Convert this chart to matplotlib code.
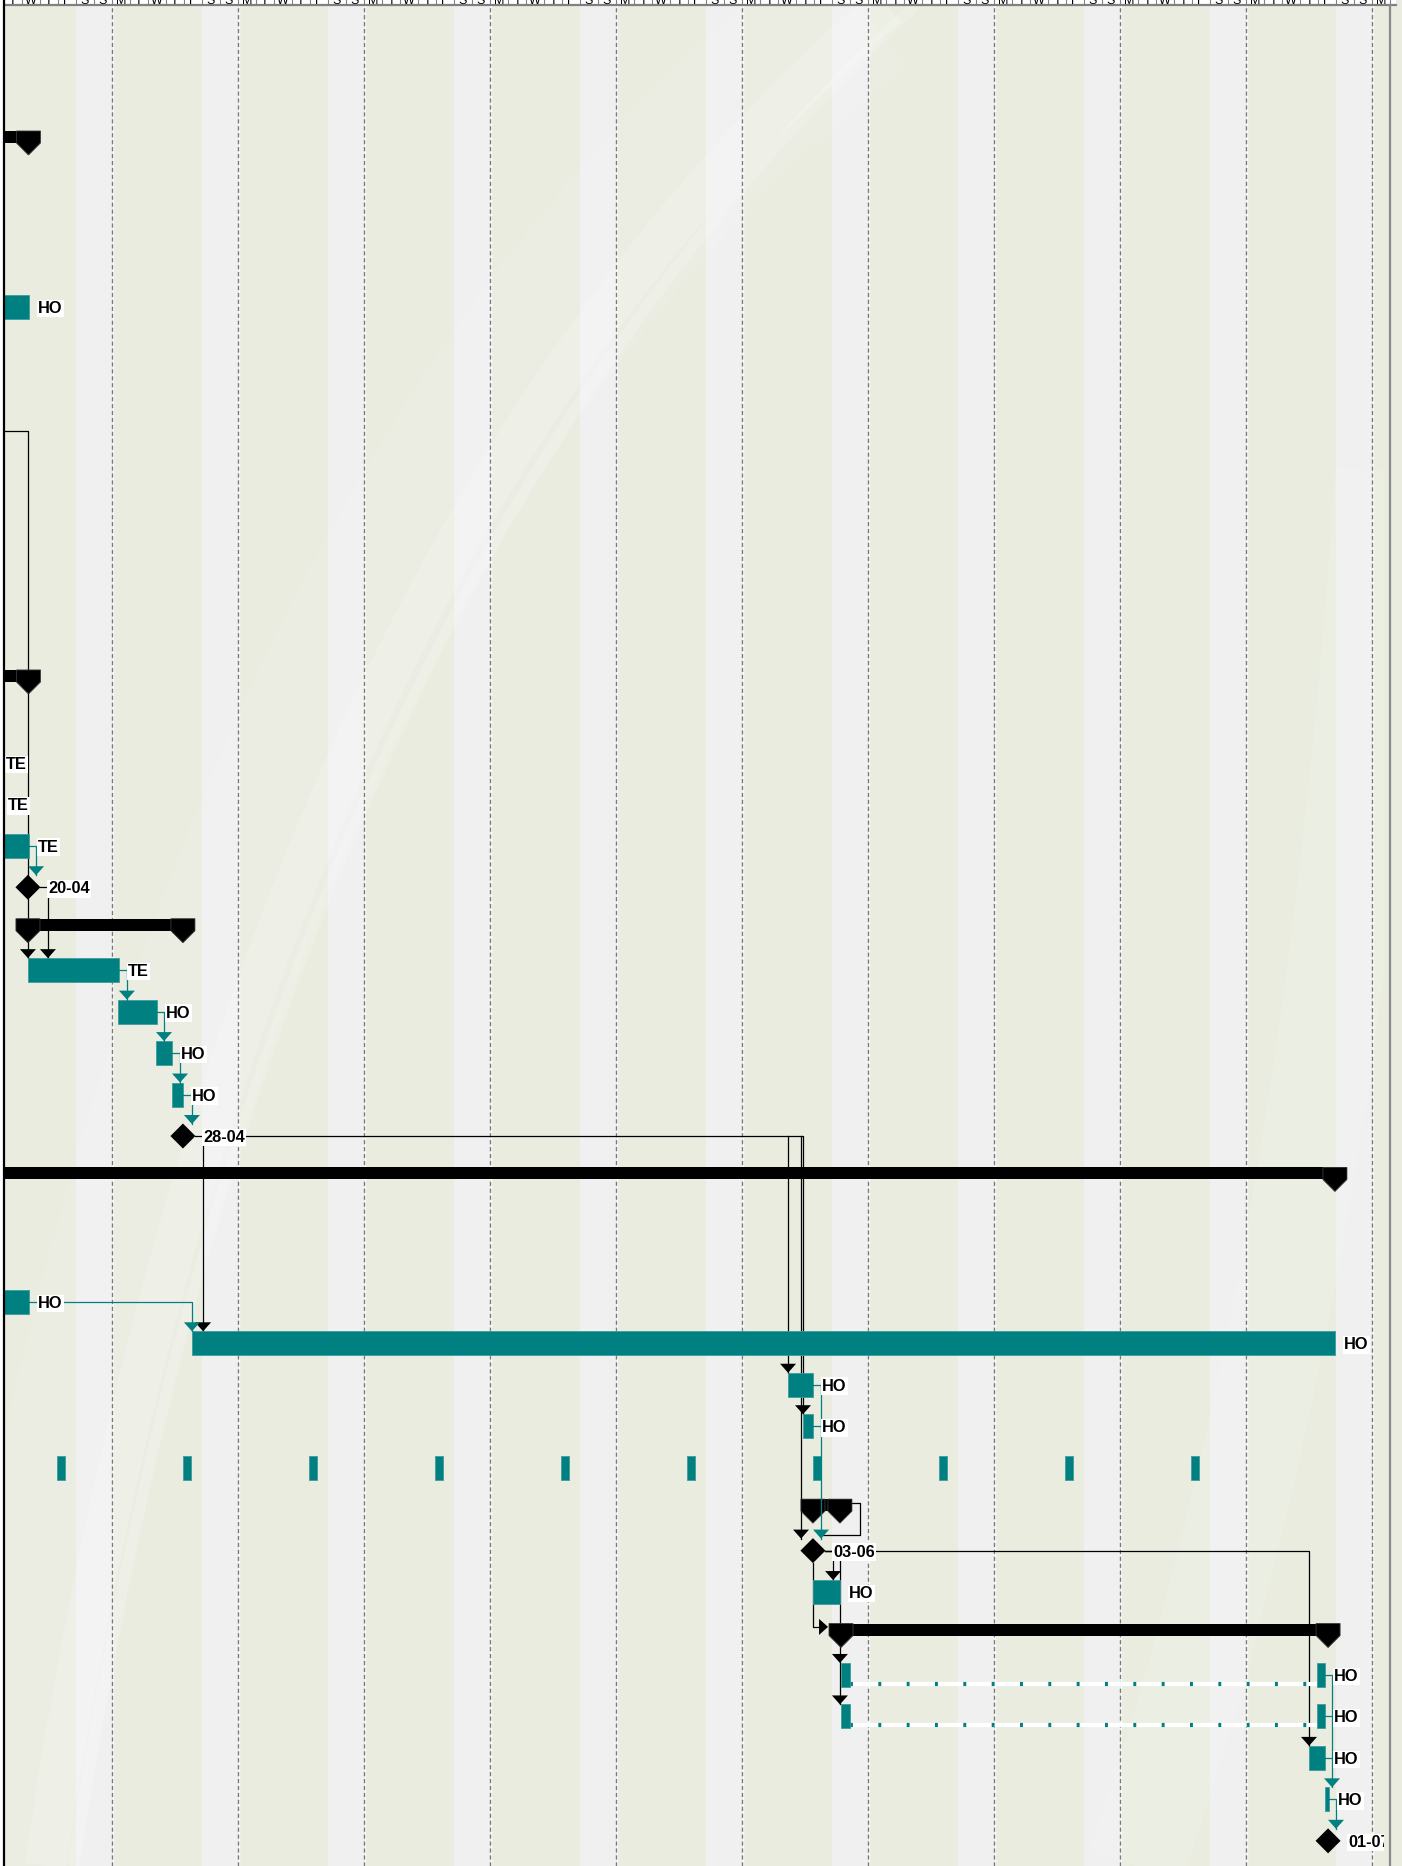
import numpy as np
import matplotlib.pyplot as plt
from matplotlib.patches import Polygon, Rectangle
from matplotlib.lines import Line2D

# ---- data (x in days from the Monday of the first week, y = row index) ----
TEAL = '#008080'

# summary rows: (row, start, end)
summaries = [(0, -1.0, 2.36), (13, -1.0, 2.36), (19, 2.33, 10.94),
             (25, -1.0, 74.94), (33, 45.94, 47.44), (36, 47.5, 74.56)]

# task bars: (row, start, end, label)
tasks = [(4, 0.0, 2.39, 'HO'), (15, -3.0, 0.6, 'TE'), (16, -3.0, 0.72, 'TE'),
         (17, 0.0, 2.39, 'TE'), (20, 2.33, 7.39, 'TE'), (21, 7.33, 9.5, 'HO'),
         (22, 9.44, 10.33, 'HO'), (23, 10.33, 10.94, 'HO'), (28, 0.0, 2.39, 'HO'),
         (29, 11.44, 74.94, 'HO'), (30, 44.56, 45.94, 'HO'), (31, 45.39, 45.94, 'HO'),
         (35, 45.97, 47.44, 'HO'), (39, 73.5, 74.39, 'HO'), (40, 74.39, 74.61, 'HO')]

# split tasks: (row, first part, second part, label)
split_tasks = [(37, (47.5, 48.0), (73.94, 74.39), 'HO'),
               (38, (47.5, 48.0), (73.94, 74.39), 'HO')]

# recurring task on row 32: weekly occurrences
recurring_row = 32
recurring_starts = [3.94, 10.94, 17.94, 24.94, 31.94, 38.94, 45.94, 52.94, 59.94, 66.94]
recurring_len = 0.44

# milestones: (row, date position, label)
milestones = [(18, 2.33, '20-04'), (24, 10.94, '28-04'),
              (34, 45.94, '03-06'), (41, 74.56, '01-07')]

# dependency links (waypoints) and arrow tips
black_links = [
    [(1.0, 7), (2.33, 7), (2.33, 19.71)],
    [(3.0, 18), (3.44, 18), (3.44, 19.71)],
    [(11.6, 24), (45.39, 24), (45.39, 30.71)],
    [(12.06, 24), (12.06, 28.71)],
    [(44.56, 24), (44.56, 29.71)],
    [(45.28, 24), (45.28, 33.71)],
    [(48.11, 32.85), (48.56, 32.85), (48.56, 33.62), (46.39, 33.62)],
    [(46.61, 34), (47.06, 34), (47.06, 34.71)],
    [(46.61, 34), (47.44, 34), (47.44, 37.71)],
    [(45.94, 34.29), (45.94, 35.84), (46.3, 35.84)],
    [(46.61, 34), (73.5, 34), (73.5, 38.71)],
]
black_arrows = [(2.33, 19.71), (3.44, 19.71), (12.06, 28.71), (44.56, 29.71),
                (45.39, 30.71), (45.28, 33.71), (47.06, 34.71), (47.44, 36.71),
                (47.44, 37.71), (73.5, 38.71)]
teal_links = [
    [(2.39, 17), (2.78, 17), (2.78, 17.71)],
    [(7.39, 20), (7.83, 20), (7.83, 20.71)],
    [(9.5, 21), (9.89, 21), (9.89, 21.71)],
    [(10.33, 22), (10.78, 22), (10.78, 22.71)],
    [(10.94, 23), (11.44, 23), (11.44, 23.71)],
    [(2.39, 28), (11.44, 28), (11.44, 28.71)],
    [(45.94, 30), (46.39, 30), (46.39, 33.71)],
    [(45.94, 31), (46.39, 31)],
    [(74.39, 37), (74.78, 37), (74.78, 39.71)],
    [(74.39, 38), (74.78, 38)],
    [(74.39, 39), (74.78, 39)],
    [(74.61, 40), (75.0, 40), (75.0, 40.71)],
]
teal_arrows = [(2.78, 17.71), (7.83, 20.71), (9.89, 21.71), (10.78, 22.71),
               (11.44, 23.71), (11.44, 28.71), (46.39, 33.71), (74.78, 39.71),
               (75.0, 40.71)]
right_arrows = [(46.78, 35.84)]

day_letters = ['M', 'T', 'W', 'T', 'F', 'S', 'S']

# ---- figure ----
W, H = 1402, 1866
fig = plt.figure(figsize=(W / 100, H / 100), dpi=100)
fig.patch.set_facecolor('#e9ecdf')

ax = fig.add_axes([4 / W, 0, 1380 / W, 1860 / H])
ax.set_xlim(1.0, 1.0 + 1380 / 18.0)
ax.set_ylim(41.607, -3.256)
ax.axis('off')
PX = 1 / 18.0      # one pixel in days
PY = 1 / 41.46     # one pixel in rows

# weekends
for k in range(12):
    ax.axvspan(5 + 7 * k, 7 + 7 * k, color='#f0f0f0', lw=0, zorder=0)

# decorative swoosh of the background
def bez(p0, p1, p2, n=200):
    t = np.linspace(0, 1, n)[:, None]
    return (1 - t) ** 2 * np.array(p0) + 2 * (1 - t) * t * np.array(p1) + t ** 2 * np.array(p2)

for (p0, p1, p2), lw, a in [(((0.0, 0.0), (0.14, 0.72), (0.62, 1.0)), 110, 0.10),
                             (((0.03, 0.0), (0.17, 0.7), (0.64, 1.0)), 30, 0.16),
                             (((0.05, 0.0), (0.19, 0.68), (0.66, 1.0)), 8, 0.2),
                             (((0.82, 0.0), (0.96, 0.3), (1.0, 0.75)), 70, 0.12)]:
    c = bez(p0, p1, p2)
    ax.plot(c[:, 0], c[:, 1], transform=ax.transAxes, color='white', lw=lw,
            alpha=a, solid_capstyle='butt', zorder=0.5)

# week grid
for d in range(7, 78, 7):
    ax.axvline(d + 1.2 * PX, color='white', lw=0.9, zorder=1)
    ax.axvline(d, color='#7a7a7a', lw=1.0, dashes=(3, 2), zorder=1.1)

# links
for pts in black_links:
    xs, ys = zip(*pts)
    ax.plot(xs, ys, color='black', lw=0.9, zorder=3)
for pts in teal_links:
    xs, ys = zip(*pts)
    ax.plot(xs, ys, color=TEAL, lw=0.9, zorder=6)

def down_arrow(x, y, col):
    ax.add_patch(Polygon([(x - 8 * PX, y - 9 * PY), (x + 8 * PX, y - 9 * PY), (x, y)],
                         closed=True, fc=col, ec='none', zorder=7))

for x, y in black_arrows:
    down_arrow(x, y, 'black')
for x, y in teal_arrows:
    down_arrow(x, y, TEAL)
for x, y in right_arrows:
    ax.add_patch(Polygon([(x - 9 * PX, y - 8 * PY), (x - 9 * PX, y + 8 * PY), (x, y)],
                         closed=True, fc='black', ec='none', zorder=7))

# summaries
for r, s, e in summaries:
    top, bot, tip, hw = r - 10 * PY, r + 2 * PY, r + 14 * PY, 12 * PX
    ax.add_patch(Rectangle((s - hw, top), e - s + 2 * hw, bot - top, fc='black', ec='none', zorder=4))
    for c in (s, e):
        ax.add_patch(Polygon([(c - hw, top), (c + hw, top), (c + hw, bot), (c, tip), (c - hw, bot)],
                             closed=True, fc='black', ec='#3a3a3a', lw=0.6, zorder=4))

lab = dict(fontsize=11.8, fontweight='bold', family=['Liberation Sans', 'DejaVu Sans'],
           va='baseline', ha='left', zorder=8, clip_on=True,
           bbox=dict(boxstyle='square,pad=0.08', fc='white', ec='none'))

def bar(r, s, e):
    ax.add_patch(Rectangle((s, r - 12 * PY), e - s, 24 * PY, fc=TEAL, ec='#3c9c9c', lw=0.6, zorder=5))

for r, s, e, t in tasks:
    bar(r, s, e)
    ax.text(e + 9 * PX, r + 6 * PY, t, **lab)

for r, p1, p2, t in split_tasks:
    yl = r + 9 * PY
    ax.plot([p1[1], p2[0]], [yl, yl], color='white', lw=3, zorder=4.5, solid_capstyle='butt')
    ax.plot([p1[1], p2[0]], [yl, yl], color=TEAL, lw=3, zorder=4.6, dashes=(0.7, 6.1))
    bar(r, *p1)
    bar(r, *p2)
    ax.text(p2[1] + 9 * PX, r + 6 * PY, t, **lab)

for s in recurring_starts:
    bar(recurring_row, s, s + recurring_len)

for r, m, t in milestones:
    hw, hh = 12.5 * PX, 12.5 * PY
    ax.add_patch(Polygon([(m - hw, r), (m, r - hh), (m + hw, r), (m, r + hh)],
                         closed=True, fc='black', ec='none', zorder=7))
    ax.text(m + 20 * PX, r + 6 * PY, t, **lab)

# ---- timescale header strip (mostly cut off at the top) ----
hx = fig.add_axes([4 / W, (H - 5) / H, 1392 / W, 5 / H])
hx.set_xlim(1.0, 78.33)
hx.set_ylim(0, 1)
hx.set_facecolor('white')
for sp in hx.spines.values():
    sp.set_visible(False)
hx.set_xticks([])
hx.set_yticks([])
for d in range(1, 79):
    hx.axvline(d, color='#808080', lw=0.8)
    hx.text(d + 0.5, 0.3, day_letters[d % 7], ha='center', va='baseline',
            fontsize=9, family='Liberation Sans', clip_on=True)
hx.axhline(0, color='#808080', lw=1.6, clip_on=False)

# frame lines
fig.add_artist(Rectangle((0, 0), 3 / W, 1, transform=fig.transFigure, fc='white', ec='none'))
fig.add_artist(Line2D([4 / W, 4 / W], [0, 1], color='black', lw=1.6))
fig.add_artist(Line2D([1390 / W, 1390 / W], [0, 1 - 5 / H], color='#8a8a8a', lw=1.6))

fig.savefig('out.png', dpi=100, facecolor=fig.get_facecolor())
